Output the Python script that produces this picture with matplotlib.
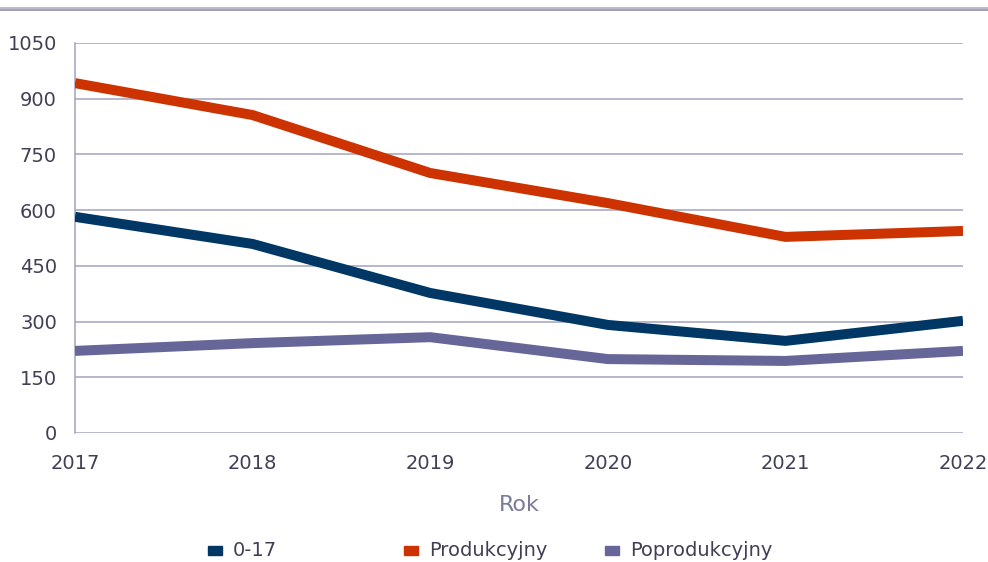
import matplotlib
matplotlib.use("Agg")
import matplotlib.pyplot as plt
from matplotlib.lines import Line2D
from matplotlib.patches import Rectangle

years = [2017, 2018, 2019, 2020, 2021, 2022]
young = [582, 509, 377, 291, 248, 302]
working = [942, 856, 700, 619, 528, 544]
retired = [221, 242, 258, 199, 194, 221]
yticks = [0, 150, 300, 450, 600, 750, 900, 1050]
series_names = ["0-17", "Produkcyjny", "Poprodukcyjny"]

c_young = "#003764"
c_work = "#cc3300"
c_ret = "#666699"
grid_c = "#a3a3bf"
text_c = "#404055"

W, H = 988, 562
fig = plt.figure(figsize=(9.88, 5.62), dpi=100)
ax = fig.add_axes([75/W, 129/H, 888/W, 390/H])

lw = 7.2
ax.plot(years, working, color=c_work, lw=lw, solid_capstyle="butt", zorder=3)
ax.plot(years, young, color=c_young, lw=lw, solid_capstyle="butt", zorder=3)
ax.plot(years, retired, color=c_ret, lw=lw, solid_capstyle="butt", zorder=3)

ax.set_xlim(2017, 2022)
ax.set_ylim(0, 1050)
ax.set_yticks(yticks)
ax.set_xticks(years)
ax.grid(axis="y", color=grid_c, lw=1.1)
ax.set_axisbelow(True)
for s in ["top", "right", "bottom"]:
    ax.spines[s].set_visible(False)
ax.spines["left"].set_color(grid_c)
ax.spines["left"].set_linewidth(1.1)
ax.tick_params(axis="both", length=0, labelsize=14, colors=text_c)
ax.tick_params(axis="y", pad=13)
ax.tick_params(axis="x", pad=15)
ax.set_xlabel("Rok", fontsize=16, color="#7b7b9b", labelpad=16)

# legend drawn manually in figure pixels
colors = [c_young, c_work, c_ret]
starts = [208, 404, 605]
ly = 550
for name, col, x0 in zip(series_names, colors, starts):
    fig.add_artist(Rectangle((x0/W, (H-ly-4.5)/H), 14/W, 9/H, color=col,
                             transform=fig.transFigure))
    fig.text((x0+25)/W, (H-ly)/H, name, fontsize=14, color=text_c,
             va="center", ha="left")

# decorative double line at top
fig.add_artist(Line2D([0, 1], [1 - 7.5/H, 1 - 7.5/H], color="#b0b0c0", lw=1.2))
fig.add_artist(Line2D([0, 1], [1 - 10/H, 1 - 10/H], color="#9090a8", lw=1.2))

fig.savefig("out.png", dpi=100)
